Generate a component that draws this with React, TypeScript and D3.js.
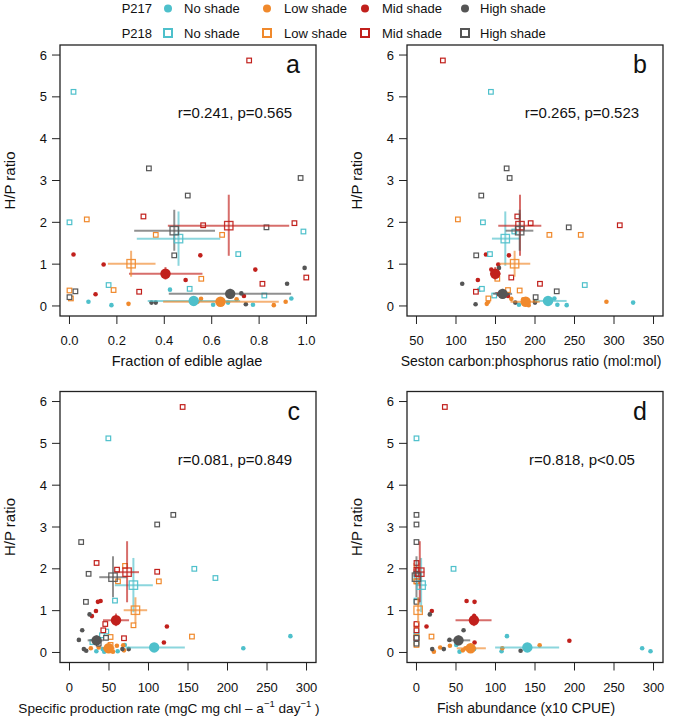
import React from "react";
import * as d3 from "d3";

const FONT = "'Liberation Sans', Arial, Helvetica, sans-serif";

// group order: P217 No, Low, Mid, High ; P218 No, Low, Mid, High
const lakes = ["P217", "P218"];
const shades = ["No shade", "Low shade", "Mid shade", "High shade"];
const shadeColors = ["#4EC0CB", "#F0892C", "#C1201C", "#555555"];

// H/P ratio of each sample (y)
const hpRatio = [
  [0.39, 0.18, 0.10, 0.08, 0.03, 0.03, 0.02],
  [0.17, 0.16, 0.10, 0.05, 0.02, 0.12, 0.10],
  [1.23, 0.99, 1.21, 0.87, 0.62, 0.28, 0.24],
  [0.91, 0.53, 0.30, 0.08, 0.08, 0.04, 0.08],
  [5.12, 2.0, 1.78, 1.24, 0.50, 0.41, 0.25],
  [2.07, 1.70, 1.70, 0.65, 0.38, 0.37, 0.18],
  [5.87, 2.14, 1.93, 1.98, 0.68, 0.53, 0.34],
  [3.29, 3.06, 2.64, 1.88, 1.21, 0.35, 0.21],
];

// panel a: fraction of edible algae
const edibleFraction = [
  [0.424, 0.936, 0.08, 0.669, 0.606, 0.774, 0.177],
  [0.555, 0.705, 0.912, 0.249, 0.862, 0.64, 0.54],
  [0.017, 0.144, 0.552, 0.784, 0.49, 0.11, 0.736],
  [0.992, 0.918, 0.725, 0.346, 0.364, 0.744, 0.645],
  [0.017, 0.0, 0.987, 0.712, 0.165, 0.507, 0.822],
  [0.073, 0.364, 0.644, 0.556, 0.186, 0.0, 0.006],
  [0.758, 0.312, 0.564, 0.949, 0.999, 0.814, 0.294],
  [0.335, 0.975, 0.499, 0.831, 0.442, 0.025, 0.0],
];

// panel b: seston C:P
const sestonCP = [
  [129.4, 224.5, 189, 324.2, 179.7, 228.3, 240.1],
  [170, 185, 290.4, 139, 192, 200, 140.8],
  [137.9, 153.5, 167, 144.7, 127.7, 151.4, 165.8],
  [154.4, 107.9, 165, 185.6, 200, 124.8, 175],
  [144.2, 134.1, 173.8, 143.0, 263.0, 132.8, 148.4],
  [102.4, 218.2, 257.9, 152.3, 165.8, 180.6, 141],
  [83.4, 177.6, 307.3, 194.5, 170.0, 206.3, 125.2],
  [164.1, 167.9, 132.0, 242.7, 125.6, 227.5, 200.8],
];

// panel c: specific production rate
const specificProduction = [
  [279.6, 70, 220, 42, 34, 61, 44],
  [68, 60, 48, 69, 55, 37, 27],
  [39.4, 33.5, 36, 28.4, 123.3, 32, 119.5],
  [25.4, 16.1, 11.9, 18.2, 67, 21.2, 75],
  [49.2, 158, 184.7, 57.6, 46.6, 41.1, 29],
  [70.3, 61.4, 113.1, 81, 155, 52, 52],
  [143.2, 34.3, 111, 60.2, 45.3, 42.8, 69],
  [131.4, 111, 14.8, 24.2, 20.8, 46.2, 37],
];

// panel d: fish abundance
const fishAbundance = [
  [114.5, 50.3, 285.6, 73, 296.2, 107.7, 54.5],
  [155.9, 42.3, 108.6, 58.7, 22, 30, 62],
  [63.4, 19.4, 73.5, 73, 12.7, 193.5, 73.5],
  [16.9, 59.6, 41.8, 19.9, 34.6, 131.8, 67.8],
  [0, 46.9, 0, 0, 0, 0, 0],
  [0, 0, 0, 0, 19, 0, 0],
  [35.9, 0, 0, 0, 0, 0, 0],
  [0, 0, 0, 0, 0, 0, 0],
];

// group means and error ranges
const meanHP = [0.12, 0.10, 0.77, 0.29, 1.61, 1.01, 1.92, 1.80];
const hpLo = [0.07, 0.08, 0.63, 0.17, 0.96, 0.70, 1.20, 1.32];
const hpHi = [0.17, 0.12, 0.93, 0.41, 2.26, 1.32, 2.66, 2.30];

const meanEdible = [0.524, 0.637, 0.405, 0.678, 0.46, 0.26, 0.672, 0.442];
const edibleLo = [0.33, 0.395, 0.251, 0.419, 0.284, 0.162, 0.415, 0.273];
const edibleHi = [0.72, 0.883, 0.561, 0.935, 0.636, 0.363, 0.927, 0.614];

const meanCP = [216.5, 188.2, 149.7, 159, 162.4, 174.2, 181, 180.6];
const cpLo = [200, 169, 143, 147, 145.5, 155, 153.5, 162.8];
const cpHi = [240, 206, 156.5, 171, 180.6, 194, 208, 197.9];

const meanSPR = [107.2, 49.6, 58.9, 34.3, 80.9, 83.5, 72.9, 55.1];
const sprLo = [71, 42, 42.4, 23, 57.4, 68.6, 57.2, 37.7];
const sprHi = [146, 57, 75.4, 43, 105.5, 98.3, 88, 72.5];

const meanFish = [140.3, 68.5, 72.7, 53.2, 5.9, 2.1, 4.2, 0];
const fishLo = [99.5, 51, 49.4, 38.5, 0, 0, 0, 0];
const fishHi = [180.6, 87.8, 95, 68, 13, 5, 10, 0];

const yTicks = [0, 1, 2, 3, 4, 5, 6];
const ticksFraction = [0, 0.2, 0.4, 0.6, 0.8, 1.0];
const ticksCP = [50, 100, 150, 200, 250, 300, 350];
const ticksRate = [0, 50, 100, 150, 200, 250, 300];

const statLabels = ["r=0.241, p=0.565", "r=0.265, p=0.523", "r=0.081, p=0.849", "r=0.818, p<0.05"];
const panelLetters = ["a", "b", "c", "d"];

type PanelDef = {
  letter: string;
  stat: string;
  left: number; right: number; top: number; bottom: number;
  lim: [number, number];
  ticks: number[];
  fmt: (v: number) => string;
  xs: number[][];
  mx: number[]; xlo: number[]; xhi: number[];
  title: React.ReactNode;
  titleX: number;
  titleSize: number;
};

function Panel({ p }: { p: PanelDef }) {
  const pad = 0.04 * (p.lim[1] - p.lim[0]);
  const x = d3.scaleLinear().domain([p.lim[0] - pad, p.lim[1] + pad]).range([p.left, p.right]);
  const y = d3.scaleLinear().domain([-0.24, 6.24]).range([p.bottom, p.top]);
  const tickLen = 8;
  const cy = (p.top + p.bottom) / 2;
  return (
    <g>
      {/* small sample points */}
      {p.xs.map((arr, g) =>
        arr.map((v, i) => {
          const col = shadeColors[g % 4];
          const px = x(v);
          const py = y(hpRatio[g][i]);
          return g < 4 ? (
            <circle key={`p${g}-${i}`} cx={px} cy={py} r={2.3} fill={col} />
          ) : (
            <rect key={`p${g}-${i}`} x={px - 2.3} y={py - 2.3} width={4.6} height={4.6}
              fill="white" stroke={col} strokeWidth={1.2} />
          );
        })
      )}
      {/* error bars */}
      {p.mx.map((m, g) => {
        const col = shadeColors[g % 4];
        return (
          <g key={`e${g}`} stroke={col} strokeOpacity={0.65} strokeWidth={2}>
            <line x1={x(p.xlo[g])} x2={x(p.xhi[g])} y1={y(meanHP[g])} y2={y(meanHP[g])} />
            <line x1={x(m)} x2={x(m)} y1={y(hpLo[g])} y2={y(hpHi[g])} />
          </g>
        );
      })}
      {/* means */}
      {p.mx.map((m, g) => {
        const col = shadeColors[g % 4];
        const px = x(m);
        const py = y(meanHP[g]);
        return g < 4 ? (
          <circle key={`m${g}`} cx={px} cy={py} r={5.2} fill={col} />
        ) : (
          <rect key={`m${g}`} x={px - 4.2} y={py - 4.2} width={8.4} height={8.4}
            fill="none" stroke={col} strokeOpacity={0.9} strokeWidth={1.3} />
        );
      })}
      {/* box */}
      <rect x={p.left} y={p.top} width={p.right - p.left} height={p.bottom - p.top}
        fill="none" stroke="#222" strokeWidth={1.3} />
      {/* y axis */}
      {yTicks.map((t) => (
        <g key={`yt${t}`}>
          <line x1={p.left} x2={p.left - tickLen} y1={y(t)} y2={y(t)} stroke="#222" strokeWidth={1} />
          <text x={p.left - 13} y={y(t)} dy="0.35em" textAnchor="end" fontSize={13} fill="#111">{t}</text>
        </g>
      ))}
      {/* x axis */}
      {p.ticks.map((t) => (
        <g key={`xt${t}`}>
          <line x1={x(t)} x2={x(t)} y1={p.bottom} y2={p.bottom + tickLen} stroke="#222" strokeWidth={1} />
          <text x={x(t)} y={p.bottom + 29} textAnchor="middle" fontSize={13} fill="#111">{p.fmt(t)}</text>
        </g>
      ))}
      <text x={p.titleX} y={p.bottom + 50} textAnchor="middle" fontSize={p.titleSize} fill="#111">{p.title}</text>
      <text transform={`translate(${p.left - 45},${cy}) rotate(-90)`} textAnchor="middle" fontSize={15} fill="#111">H/P ratio</text>
      <text x={p.right - 16} y={p.top + 28} textAnchor="end" fontSize={25} fill="#111">{p.letter}</text>
      <text x={p.right - 81} y={p.top + 73} textAnchor="middle" fontSize={15} fill="#111">{p.stat}</text>
    </g>
  );
}

export default function App() {
  const L = [60, 407];
  const R = [316, 663];
  const T = [45, 391.5];
  const B = [316, 662.5];
  const f1 = d3.format(".1f");
  const f0 = d3.format("d");
  const panels: PanelDef[] = [
    {
      letter: panelLetters[0], stat: statLabels[0],
      left: L[0], right: R[0], top: T[0], bottom: B[0],
      lim: [0, 1], ticks: ticksFraction, fmt: f1, xs: edibleFraction,
      mx: meanEdible, xlo: edibleLo, xhi: edibleHi,
      title: "Fraction of edible aglae", titleX: 187, titleSize: 14.5,
    },
    {
      letter: panelLetters[1], stat: statLabels[1],
      left: L[1], right: R[1], top: T[0], bottom: B[0],
      lim: [50, 350], ticks: ticksCP, fmt: f0, xs: sestonCP,
      mx: meanCP, xlo: cpLo, xhi: cpHi,
      title: "Seston carbon:phosphorus ratio (mol:mol)", titleX: 531, titleSize: 14,
    },
    {
      letter: panelLetters[2], stat: statLabels[2],
      left: L[0], right: R[0], top: T[1], bottom: B[1],
      lim: [0, 300], ticks: ticksRate, fmt: f0, xs: specificProduction,
      mx: meanSPR, xlo: sprLo, xhi: sprHi,
      title: (
        <>
          {"Specific production rate (mgC mg chl – a"}
          <tspan dy={-6} fontSize={9.5}>−1</tspan>
          <tspan dy={6}>{" day"}</tspan>
          <tspan dy={-6} fontSize={9.5}>−1</tspan>
          <tspan dy={6}>{" )"}</tspan>
        </>
      ),
      titleX: 169, titleSize: 13.6,
    },
    {
      letter: panelLetters[3], stat: statLabels[3],
      left: L[1], right: R[1], top: T[1], bottom: B[1],
      lim: [0, 300], ticks: ticksRate, fmt: f0, xs: fishAbundance,
      mx: meanFish, xlo: fishLo, xhi: fishHi,
      title: "Fish abundance (x10 CPUE)", titleX: 526, titleSize: 14,
    },
  ];

  const legendRowY = [8.5, 33];
  const legendMarkX = [168, 267, 365, 465];
  const legendTextX = [184, 284, 382, 480];

  return (
    <svg width={674} height={716} fontFamily={FONT}
      style={{ position: "absolute", left: 0, top: 0, background: "#fff" }}>
      <rect width={674} height={716} fill="#fff" />
      {lakes.map((lake, li) => (
        <g key={lake}>
          <text x={152} y={legendRowY[li]} dy="0.35em" textAnchor="end" fontSize={13} fill="#111">{lake}</text>
          {shades.map((s, si) => (
            <g key={s}>
              {li === 0 ? (
                <circle cx={legendMarkX[si]} cy={legendRowY[li]} r={4} fill={shadeColors[si]} />
              ) : (
                <rect x={legendMarkX[si] - 4} y={legendRowY[li] - 4} width={8} height={8}
                  fill="none" stroke={shadeColors[si]} strokeWidth={2} />
              )}
              <text x={legendTextX[si]} y={legendRowY[li]} dy="0.35em" fontSize={13} fill="#111">{s}</text>
            </g>
          ))}
        </g>
      ))}
      {panels.map((p) => (
        <Panel key={p.letter} p={p} />
      ))}
    </svg>
  );
}
